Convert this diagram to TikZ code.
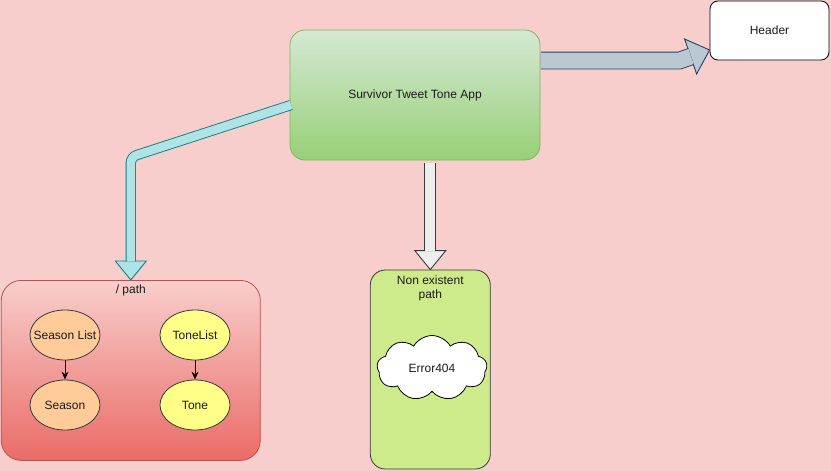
\documentclass[tikz,border=0pt]{standalone}
\usepackage{fontspec}
\setmainfont{Liberation Sans}
\usepackage{xcolor}
\usepackage{tikz}
\usetikzlibrary{calc,arrows.meta,shapes.geometric,shapes.symbols}
\definecolor{bg}{HTML}{F8CECC}
\definecolor{ink}{HTML}{1A1A1A}
\definecolor{apptop}{HTML}{D5E8D4}
\definecolor{appbot}{HTML}{97D077}
\definecolor{appline}{HTML}{82B366}
\definecolor{pathtop}{HTML}{F8CECC}
\definecolor{pathbot}{HTML}{EA6B66}
\definecolor{pathline}{HTML}{B85450}
\definecolor{lime}{HTML}{CDEB8B}
\definecolor{dark}{HTML}{36393D}
\definecolor{peach}{HTML}{FFCC99}
\definecolor{lemon}{HTML}{FFFF88}
\definecolor{teal}{HTML}{0E8088}
\definecolor{aqua}{HTML}{B0E3E6}
\definecolor{navy}{HTML}{23445D}
\definecolor{steel}{HTML}{BAC8D3}
\definecolor{pale}{HTML}{EEEEEE}
\tikzset{
  lab/.style={text=ink, font=\fontsize{12}{13.5}\selectfont},
  appbox/.style={rectangle, draw=appline, line width=0.8pt, rounded corners=15pt,
    top color=apptop, bottom color=appbot, minimum width=250pt, minimum height=130pt, lab},
  hdrbox/.style={rectangle, draw=black, fill=white, line width=0.8pt, rounded corners=8pt,
    minimum width=119pt, minimum height=59pt, lab},
  pathbox/.style={rectangle, draw=pathline, line width=0.8pt, rounded corners=20pt,
    top color=pathtop, bottom color=pathbot, minimum width=259pt, minimum height=180pt},
  nobox/.style={rectangle, draw=dark, fill=lime, line width=0.8pt, rounded corners=15pt,
    minimum width=120pt, minimum height=199pt},
  errcloud/.style={cloud, cloud puffs=9, cloud puff arc=120, cloud ignores aspect,
    draw=black, fill=white, line width=0.8pt, minimum width=110pt, minimum height=65pt,
    inner sep=0pt, lab},
  oval/.style={ellipse, draw=dark, line width=0.8pt, minimum width=70pt, minimum height=50pt,
    inner xsep=-7pt, inner ysep=0pt, lab},
  link/.style={draw=black, line width=0.9pt, -{Stealth[length=8pt,width=7pt]}},
  aquashaft/.style={draw=teal, double=aqua, double distance=8.5pt, line width=0.9pt, rounded corners=6pt},
  aquahead/.style={draw=teal, fill=aqua, line width=0.9pt, line join=miter},
  steelshaft/.style={draw=navy, double=steel, double distance=16pt, line width=0.9pt},
  steelhead/.style={draw=navy, fill=steel, line width=0.9pt, line join=miter},
  paleshaft/.style={draw=dark, double=pale, double distance=10pt, line width=0.9pt},
  palehead/.style={draw=dark, fill=pale, line width=0.9pt, line join=miter},
}
\begin{document}
\begin{tikzpicture}[x=1pt,y=-1pt]
  \useasboundingbox (0,0) rectangle (831,471);
  \fill[bg] (0,0) rectangle (831,471);

  % boxes
  \node[appbox] (app) at (415,95) {Survivor Tweet Tone App};
  \node[hdrbox] (header) at (769.5,30.5) {Header};
  \node[pathbox] (rootpath) at (130.8,370.4) {};
  \node[lab, anchor=north, inner sep=5pt] (rootlbl) at (rootpath.north) {/ path};
  \node[nobox] (nopath) at (430.3,369.5) {};
  \node[lab, anchor=north, align=center, inner sep=6.5pt] (nolbl) at (nopath.north) {Non existent\\path};
  \node[errcloud] (err) at (432,368) {Error404};

  % inner ovals
  \node[oval, fill=peach] (seasonlist) at (65,335) {Season List};
  \node[oval, fill=peach] (season) at (65,405) {Season};
  \node[oval, fill=lemon] (tonelist) at (195,335) {ToneList};
  \node[oval, fill=lemon] (tone) at (195,405) {Tone};
  \draw[link] (seasonlist) -- (season);
  \draw[link] (tonelist) -- (tone);

  % fat arrows
  \coordinate (bend) at (130.8,157);
  \filldraw[aquahead] ($(rootpath.north)+(-15.5,-19)$) -- ($(rootpath.north)+(15.5,-19)$) -- (rootpath.north) -- cycle;
  \draw[aquashaft] ($(app.west)+(1.5,10)$) -- (bend) -- ($(rootpath.north)+(0,-18.5)$);

  \coordinate (tip) at ($(header.west)+(0,19.5)$);
  \filldraw[steelhead] ($(tip)+(-25,-11)$) -- (tip) -- ($(tip)+(-13,24)$) -- cycle;
  \draw[steelshaft] ($(app.east)+(0.5,-34.5)$) -- ($(tip)+(-30,10.5)$) -- ($(tip)+(-18.5,6.5)$);

  \filldraw[palehead] ($(nopath.north)+(-15.5,-19)$) -- ($(nopath.north)+(15.5,-19)$) -- (nopath.north) -- cycle;
  \draw[paleshaft] ($(nopath.north |- app.south)+(0,3)$) -- ($(nopath.north)+(0,-18.5)$);
\end{tikzpicture}
\end{document}
